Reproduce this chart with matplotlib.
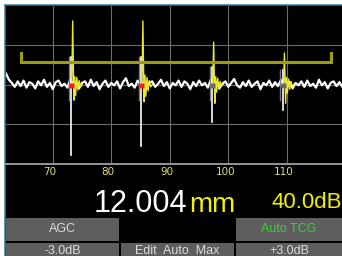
import numpy as np
import matplotlib
matplotlib.use('Agg')
import matplotlib.pyplot as plt
from matplotlib.patches import Rectangle
from matplotlib.lines import Line2D
import matplotlib.transforms as mtransforms

# ---- data ----
tick_values = [70, 80, 90, 100, 110]
tick_labels = ['70', '80', '90', '100', '110']

noise = [
    14, 6, 2, -3, 4, -2, 5, -4, 3, 1,
    -5, 4, -1, 6, -3, 2, -6, 3, 5, -2,
    1, -4, 7, -1, 3, -5, 2, 4, -3, 6,
    -2, 3, -6, 1, 5, -3, 2, -1, 4, -5,
    3, 8, -2, 1, -4, 5, -1, 3, -6, 2,
    4, -3, 1, 6, -2, 3, -5, 2, -1, 5,
    -3, 4, 1, -6, 3, -2, 5, -1, 2, -4,
    6, -2, 3, -5, 1, 4, -3, 2, 7, -1,
    -4, 3, -2, 5, -3, 1, 4, -6, 2, -1,
    5, -3, 3, -2, 6, -4, 1, 3, -5, 2,
    -1, 4, -3, 5, -2, 1, -4, 6, -1, 3,
    -5, 2, 4, -2, 3, -3,
]
noise_x = np.linspace(62.0, 119.5, len(noise))

echo_x = [73.1, 85.1, 97.2, 109.3]
echo_peak = [81, 81, 54, 40]        # yellow positive spike
echo_trough = [-90, -78, -48, -32]  # white negative spike
echo_pre = [35, 35, 22, 18]
echo_marker = ['#ff1a1a', '#ff1a1a', '#6a6a6a', '#6a6a6a']
ring_dx = [0.5, 0.65, 0.8, 1.0, 1.2, 1.4, 1.65, 1.9]
ring_amps = [
    [-20, 10, -14, 9, -7, 5, -3, 0],
    [-22, 12, -15, 9, -8, 5, -3, 0],
    [-24, 10, -10, 8, -6, 4, -2, 0],
    [-24, 9, -11, 7, -6, 4, -2, 0],
]

gate_start, gate_end = 64.6, 117.6
gate_level, gate_tick = 29, 40

thickness = '12.004'
unit = 'mm'
gain = '40.0dB'
buttons_row1 = ['AGC', '', 'Auto TCG']
buttons_row2 = ['-3.0dB', 'Edit  Auto  Max', '+3.0dB']

W, H = 342, 256
fig = plt.figure(figsize=(W / 100, H / 100), dpi=100, facecolor='white')


def fx(x):
    return x / W


def fy(y):
    return 1 - y / H


# screen background and border
fig.patches.append(Rectangle((fx(5), 0), 1 - fx(5), fy(5), transform=fig.transFigure,
                             facecolor='black', edgecolor='none', zorder=-5))
fig.lines.append(Line2D([fx(5), fx(5)], [0, fy(5)], transform=fig.transFigure,
                        color='#3a7ea0', lw=1.1, zorder=-4))
fig.lines.append(Line2D([fx(5), 1], [fy(5), fy(5)], transform=fig.transFigure,
                        color='#3a7ea0', lw=1.1, zorder=-4))

ax = fig.add_axes([fx(6), fy(163), fx(336), 157 / H])
ax.set_facecolor('black')
for s in ax.spines.values():
    s.set_visible(False)
ax.set_xlim(62, 119.44)
ax.set_ylim(-100, 100)
ax.set_xticks([])
ax.set_yticks([])

for v in tick_values:
    ax.axvline(v, color='#6c6c6c', lw=0.8, zorder=1)
for v in [-50, 0, 50]:
    ax.axhline(v, color='#6c6c6c', lw=0.8, zorder=1)

# noise baseline
ax.plot(noise_x, noise, color='white', lw=1.6, zorder=3)

# echoes
for i, x in enumerate(echo_x):
    ax.plot([x - 0.4, x - 0.4], [echo_pre[i], -20], color='#7a7a7a', lw=1.0, zorder=4)
    ax.plot([x, x], [echo_pre[i], echo_trough[i]], color='white', lw=1.2, zorder=5)
    yx = [x + 0.15, x + 0.3] + [x + d for d in ring_dx]
    yy = [0, echo_peak[i]] + ring_amps[i]
    ax.plot(yx, yy, color='#e8e830', lw=1.0, zorder=6)
    ax.plot([x], [0], marker='s', ms=3.6, color=echo_marker[i], mec='none', zorder=7)

# gate
ax.plot([gate_start, gate_start, gate_end, gate_end],
        [gate_tick, gate_level, gate_level, gate_tick],
        color='#9c9c10', lw=2.2, solid_joinstyle='miter', zorder=8)

# axis line and tick labels
fig.lines.append(Line2D([fx(6), 1], [fy(163.5), fy(163.5)], transform=fig.transFigure,
                        color='#b0b0b0', lw=1.2))
trans = mtransforms.blended_transform_factory(ax.transData, fig.transFigure)
shift = mtransforms.ScaledTranslation(-3 / 100, 0, fig.dpi_scale_trans)
for v, lab in zip(tick_values, tick_labels):
    fig.text(v, fy(172), lab, transform=trans + shift, ha='center', va='center',
             fontsize=7.5, color='#e0e070', family='DejaVu Sans')

fig.text(fx(187), fy(212), thickness, ha='right', va='baseline', fontsize=22,
         color='white', family='Liberation Sans')
fig.text(fx(189), fy(212), unit, ha='left', va='baseline', fontsize=20,
         color='#f2f200', family='Liberation Sans')
fig.text(fx(271), fy(208), gain, ha='left', va='baseline', fontsize=16,
         color='#f2f200', family='Liberation Sans')

# soft-key buttons
cols = [(6, 119), (121, 234), (236, 342)]
rows = [(218, 241), (243, 262)]
for r, labels in enumerate([buttons_row1, buttons_row2]):
    y0, y1 = rows[r]
    for c, lab in enumerate(labels):
        if r == 0 and c == 1:
            continue
        x0, x1 = cols[c]
        fig.patches.append(Rectangle((fx(x0), fy(y1)), fx(x1 - x0), (y1 - y0) / H,
                                     transform=fig.transFigure, facecolor='#5e5e5e',
                                     edgecolor='none'))
        color = '#3cd03c' if lab == 'Auto TCG' else '#dcdcdc'
        yc = (y0 + y1) / 2 if r == 0 else 251
        fig.text(fx((x0 + x1) / 2), fy(yc), lab, ha='center', va='center',
                 fontsize=9, color=color, family='Liberation Sans')

fig.savefig('out.png', dpi=100, facecolor='white')
